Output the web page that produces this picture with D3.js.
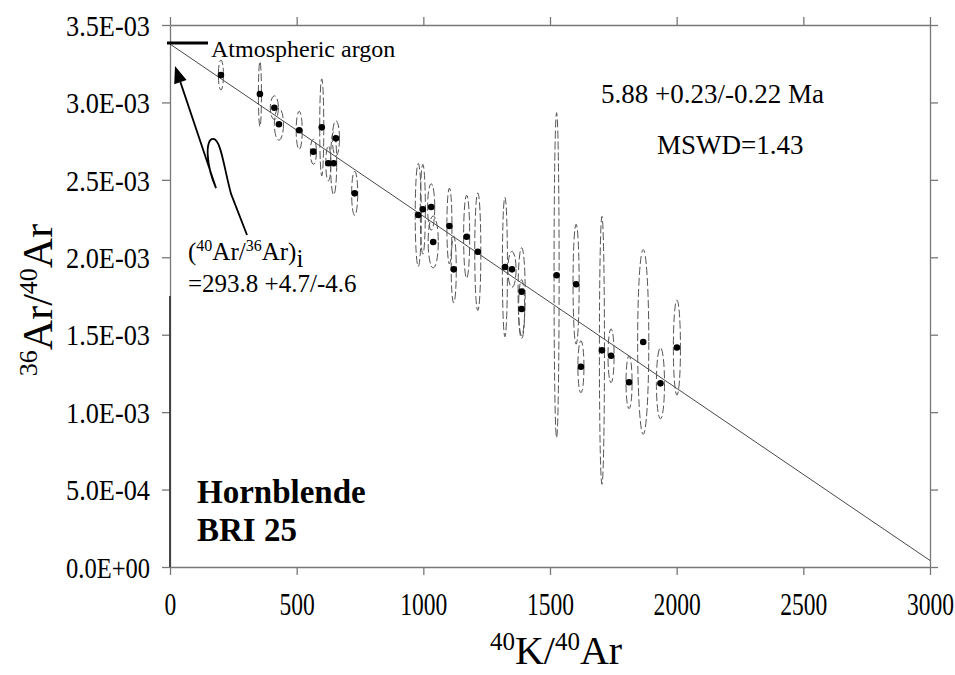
<!DOCTYPE html>
<html>
<head>
<meta charset="utf-8">
<script src="https://cdn.jsdelivr.net/npm/d3@7"></script>
<style>
  html, body { margin: 0; padding: 0; background: #fff; }
  svg { display: block; }
  text { font-family: "Liberation Serif", "Times New Roman", serif; fill: #000; }
</style>
</head>
<body>
<svg id="chart" width="955" height="675"></svg>
<script>
// ---------- data ----------
// 40K/40Ar
const kAr = [201, 355, 412, 430, 510, 566, 599, 625, 646, 655, 729,
             980, 998, 1031, 1039, 1103, 1120, 1171, 1215, 1322, 1350, 1388, 1388,
             1526, 1603, 1622, 1705, 1741, 1812, 1868, 1936, 2001];
// 36Ar/40Ar (x 1e-3)
const arAr = [3.177, 3.054, 2.966, 2.859, 2.820, 2.682, 2.839, 2.607, 2.607, 2.768, 2.413,
              2.273, 2.310, 2.325, 2.099, 2.202, 1.922, 2.133, 2.036, 1.937, 1.922, 1.778, 1.666,
              1.884, 1.826, 1.293, 1.399, 1.364, 1.193, 1.453, 1.186, 1.417];
// error ellipse half-axis along 36Ar/40Ar (x 1e-3)
const errY = [0.097, 0.210, 0.077, 0.103, 0.123, 0.081, 0.313, 0.113, 0.203, 0.113, 0.142,
              0.333, 0.290, 0.150, 0.168, 0.245, 0.216, 0.268, 0.380, 0.450, 0.116, 0.284, 0.190,
              1.050, 0.387, 0.168, 0.865, 0.174, 0.171, 0.597, 0.230, 0.307];
// error ellipse half-axis along 40K/40Ar
const errX = [10, 6, 16, 18, 12, 12, 8, 10, 12, 14, 12,
              12, 10, 14, 20, 10, 10, 12, 12, 10, 16, 14, 12,
              10, 12, 12, 10, 12, 12, 22, 16, 14];
// isochron end values (36Ar/40Ar x 1e-3 at 40K/40Ar = 0 and 3000)
const isochronX = [0, 3000];
const isochronY = [3.377, 0.042];
const atmosphericRatio = 1 / 295.5;
const xTicks = [0, 500, 1000, 1500, 2000, 2500, 3000];
const yTicks = [0, 0.0005, 0.001, 0.0015, 0.002, 0.0025, 0.003, 0.0035];
const yTickLabels = ["0.0E+00", "5.0E-04", "1.0E-03", "1.5E-03", "2.0E-03", "2.5E-03", "3.0E-03", "3.5E-03"];

(function () {
// ---------- layout ----------
const svg = d3.select("#chart");
const mLeft = 170, mRight = 930, mTop = 25, mBottom = 567;
const x = d3.scaleLinear().domain([0, 3000]).range([mLeft, mRight]);
const y = d3.scaleLinear().domain([0, 0.0035]).range([mBottom, mTop]);
const axisColor = "#777";

function styleAxis(g) {
  g.selectAll("path.domain").attr("stroke", axisColor).attr("stroke-width", 1.3);
  g.selectAll(".tick line").attr("stroke", axisColor).attr("stroke-width", 1.3);
}

// axes
const gL = svg.append("g").attr("transform", `translate(${mLeft},0)`)
  .call(d3.axisLeft(y).tickValues(yTicks).tickSize(8).tickSizeOuter(0).tickPadding(12)
    .tickFormat((d, i) => yTickLabels[i]));
gL.selectAll("text").attr("font-size", 30).attr("font-family", "Liberation Serif").attr("fill", "#000")
  .attr("dy", "0.34em")
  .attr("textLength", 84).attr("lengthAdjust", "spacingAndGlyphs");
styleAxis(gL);

const gR = svg.append("g").attr("transform", `translate(${mRight},0)`)
  .call(d3.axisRight(y).tickValues(yTicks).tickSize(8).tickSizeOuter(0).tickFormat(""));
styleAxis(gR);

const gB = svg.append("g").attr("transform", `translate(0,${mBottom})`)
  .call(d3.axisBottom(x).tickValues(xTicks).tickSize(8).tickSizeOuter(0).tickPadding(18)
    .tickFormat(d3.format("d")));
gB.selectAll("text").attr("font-size", 31).attr("font-family", "Liberation Serif").attr("fill", "#000")
  .attr("transform", "scale(0.76,1)");
styleAxis(gB);

const gT = svg.append("g").attr("transform", `translate(0,${mTop})`)
  .call(d3.axisTop(x).tickValues(xTicks).tickSize(8).tickSizeOuter(0).tickFormat(""));
styleAxis(gT);

// darker lower part of left axis
svg.append("line")
  .attr("x1", mLeft).attr("x2", mLeft)
  .attr("y1", y(0.00175)).attr("y2", y(0))
  .attr("stroke", "#444").attr("stroke-width", 2);

// isochron
svg.append("line")
  .attr("x1", x(isochronX[0])).attr("y1", y(isochronY[0] / 1000))
  .attr("x2", x(isochronX[1])).attr("y2", y(isochronY[1] / 1000))
  .attr("stroke", "#333").attr("stroke-width", 0.9);

// error ellipses
const pts = kAr.map((k, i) => ({ x: k, y: arAr[i] / 1000, ex: errX[i], ey: errY[i] / 1000 }));
svg.append("g").selectAll("ellipse").data(pts).join("ellipse")
  .attr("cx", d => x(d.x)).attr("cy", d => y(d.y))
  .attr("rx", d => x(d.x + d.ex) - x(d.x))
  .attr("ry", d => y(d.y) - y(d.y + d.ey))
  .attr("fill", "none").attr("stroke", "#555").attr("stroke-width", 1)
  .attr("stroke-dasharray", "8,3");

// points
svg.append("g").selectAll("circle").data(pts).join("circle")
  .attr("cx", d => x(d.x)).attr("cy", d => y(d.y)).attr("r", 3.3).attr("fill", "#000");

// atmospheric argon marker
svg.append("line")
  .attr("x1", x(-12)).attr("x2", x(150))
  .attr("y1", y(atmosphericRatio)).attr("y2", y(atmosphericRatio))
  .attr("stroke", "#000").attr("stroke-width", 3);
svg.append("text").attr("x", 211).attr("y", 57).attr("font-size", 24).text("Atmospheric argon");

// arrow with squiggle (data coords -> pixels)
const P = (a, b) => [x(a), y(b / 1000)];
const tip = P(19.7, 3.235), p1 = P(181.6, 2.447);
const c1 = P(142, 2.596), c2 = P(138, 2.764), p2 = P(170, 2.764);
const c3 = P(201, 2.764), c4 = P(213, 2.577), p3 = P(241, 2.409), p4 = P(304, 2.144);
const ang = Math.atan2(tip[1] - p1[1], tip[0] - p1[0]);
const hl = 17, hw = 6.5;
const base = [tip[0] - hl * Math.cos(ang), tip[1] - hl * Math.sin(ang)];
svg.append("path")
  .attr("d", `M${base[0]},${base[1]} L${p1[0]},${p1[1]} C${c1} ${c2} ${p2} C${c3} ${c4} ${p3} L${p4[0]},${p4[1]}`)
  .attr("fill", "none").attr("stroke", "#000").attr("stroke-width", 1.8);
svg.append("path")
  .attr("d", `M${tip[0]},${tip[1]} L${base[0] + hw * Math.sin(ang)},${base[1] - hw * Math.cos(ang)} L${base[0] - hw * Math.sin(ang)},${base[1] + hw * Math.cos(ang)} Z`)
  .attr("fill", "#000");

// initial ratio label
const t1 = svg.append("text").attr("x", 188).attr("y", 260).attr("font-size", 25);
t1.append("tspan").text("(");
t1.append("tspan").attr("font-size", 16).attr("dy", -9).text("40");
t1.append("tspan").attr("dy", 9).text("Ar/");
t1.append("tspan").attr("font-size", 16).attr("dy", -9).text("36");
t1.append("tspan").attr("dy", 9).text("Ar)");
t1.append("tspan").attr("dy", 7).text("i");
svg.append("text").attr("x", 188).attr("y", 292).attr("font-size", 25).text("=293.8 +4.7/-4.6");

// age and MSWD
svg.append("text").attr("x", 601).attr("y", 103).attr("font-size", 27).text("5.88 +0.23/-0.22 Ma");
svg.append("text").attr("x", 657).attr("y", 154).attr("font-size", 27).text("MSWD=1.43");

// sample label
svg.append("text").attr("x", 197).attr("y", 503).attr("font-size", 33).attr("font-weight", "bold").text("Hornblende");
svg.append("text").attr("x", 197).attr("y", 541).attr("font-size", 33).attr("font-weight", "bold").text("BRI 25");

// axis titles
const xt = svg.append("text").attr("x", 556).attr("y", 664).attr("text-anchor", "middle").attr("font-size", 40);
xt.append("tspan").attr("font-size", 25).attr("dy", -14).text("40");
xt.append("tspan").attr("dy", 14).text("K/");
xt.append("tspan").attr("font-size", 25).attr("dy", -14).text("40");
xt.append("tspan").attr("dy", 14).text("Ar");

const yt = svg.append("text").attr("transform", "translate(52,300) rotate(-90)")
  .attr("text-anchor", "middle").attr("font-size", 42);
yt.append("tspan").attr("font-size", 26).attr("dy", -15).text("36");
yt.append("tspan").attr("dy", 15).text("Ar/");
yt.append("tspan").attr("font-size", 26).attr("dy", -15).text("40");
yt.append("tspan").attr("dy", 15).text("Ar");
})();
</script>
</body>
</html>
